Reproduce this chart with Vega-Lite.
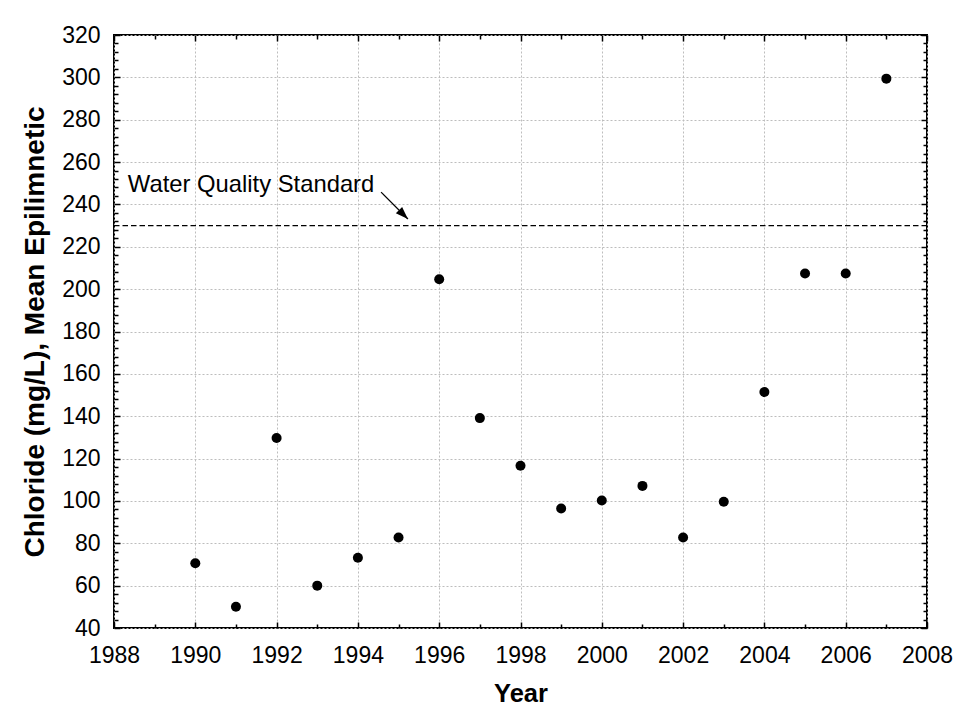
{
  "$schema": "https://vega.github.io/schema/vega-lite/v6.json",
  "width": 813,
  "height": 593,
  "autosize": {"type": "none"},
  "padding": {"left": 114, "top": 35, "right": 27, "bottom": 91},
  "background": "white",
  "config": {
    "font": "Liberation Sans",
    "view": {"stroke": "black", "strokeWidth": 2},
    "axis": {
      "labelFont": "Liberation Sans",
      "labelColor": "black",
      "titleFont": "Liberation Sans",
      "titleColor": "black",
      "tickColor": "black",
      "tickWidth": 1.5,
      "domain": false
    }
  },
  "datasets": {
    "chloride": [
      {"year": 1990, "chloride": 70.6},
      {"year": 1991, "chloride": 50},
      {"year": 1992, "chloride": 129.7},
      {"year": 1993, "chloride": 60},
      {"year": 1994, "chloride": 73.2},
      {"year": 1995, "chloride": 82.7},
      {"year": 1996, "chloride": 204.7},
      {"year": 1997, "chloride": 139.1},
      {"year": 1998, "chloride": 116.6},
      {"year": 1999, "chloride": 96.4},
      {"year": 2000, "chloride": 100.2},
      {"year": 2001, "chloride": 107.1},
      {"year": 2002, "chloride": 82.7},
      {"year": 2003, "chloride": 99.6},
      {"year": 2004, "chloride": 151.4},
      {"year": 2005, "chloride": 207.4},
      {"year": 2006, "chloride": 207.4},
      {"year": 2007, "chloride": 299.4}
    ],
    "standard": [{"label": "Water Quality Standard", "value": 230}],
    "note": [{"label": "Water Quality Standard", "year": 1988.34, "chloride": 245.8}],
    "arrow": [{"year": 1994.57, "chloride": 245.8, "year2": 1995.23, "chloride2": 233.1}]
  },
  "layer": [
    {
      "data": {"name": "chloride"},
      "mark": {"type": "circle", "size": 100, "color": "black", "opacity": 1},
      "encoding": {
        "x": {
          "field": "year", "type": "quantitative",
          "scale": {"domain": [1988, 2008], "nice": false, "zero": false},
          "axis": {
            "orient": "bottom",
            "values": [1988, 1990, 1992, 1994, 1996, 1998, 2000, 2002, 2004, 2006, 2008],
            "format": "d",
            "ticks": false,
            "grid": true,
            "gridColor": "#bdbdbd",
            "gridDash": [2, 2],
            "gridWidth": 1,
            "labelFontSize": 23,
            "labelPadding": 16,
            "labelFlush": false,
            "labelOverlap": false,
            "title": "Year",
            "titleFontSize": 25.5,
            "titleFontWeight": "bold",
            "titlePadding": 14
          }
        },
        "y": {
          "field": "chloride", "type": "quantitative",
          "scale": {"domain": [40, 320], "nice": false, "zero": false},
          "axis": {
            "orient": "left",
            "values": [40, 60, 80, 100, 120, 140, 160, 180, 200, 220, 240, 260, 280, 300, 320],
            "ticks": false,
            "grid": true,
            "gridColor": "#bdbdbd",
            "gridDash": [2, 2],
            "gridWidth": 1,
            "labelFontSize": 23,
            "labelPadding": 14,
            "labelOverlap": false,
            "title": "Chloride (mg/L), Mean Epilimnetic",
            "titleFontSize": 28,
            "titleFontWeight": "bold",
            "titlePadding": 12
          }
        }
      }
    },
    {
      "data": {"name": "standard"},
      "mark": {"type": "rule", "color": "black", "strokeWidth": 1.2, "strokeDash": [5.5, 3]},
      "encoding": {
        "y": {"field": "value", "type": "quantitative", "scale": {"domain": [40, 320], "nice": false, "zero": false}, "axis": null}
      }
    },
    {
      "data": {"name": "note"},
      "mark": {"type": "text", "align": "left", "baseline": "alphabetic", "fontSize": 23.8, "font": "Liberation Sans", "color": "black"},
      "encoding": {
        "x": {
          "field": "year", "type": "quantitative",
          "scale": {"domain": [1988, 2008], "nice": false, "zero": false},
          "axis": {
            "orient": "top",
            "values": [1988, 1989, 1990, 1991, 1992, 1993, 1994, 1995, 1996, 1997, 1998, 1999, 2000, 2001, 2002, 2003, 2004, 2005, 2006, 2007, 2008],
            "labels": false, "grid": false, "title": null,
            "tickSize": {"condition": {"test": "datum.value % 2 === 0", "value": -6}, "value": -4}
          }
        },
        "y": {
          "field": "chloride", "type": "quantitative",
          "scale": {"domain": [40, 320], "nice": false, "zero": false},
          "axis": {
            "orient": "right",
            "values": [40, 44, 48, 52, 56, 60, 64, 68, 72, 76, 80, 84, 88, 92, 96, 100, 104, 108, 112, 116, 120, 124, 128, 132, 136, 140, 144, 148, 152, 156, 160, 164, 168, 172, 176, 180, 184, 188, 192, 196, 200, 204, 208, 212, 216, 220, 224, 228, 232, 236, 240, 244, 248, 252, 256, 260, 264, 268, 272, 276, 280, 284, 288, 292, 296, 300, 304, 308, 312, 316, 320],
            "labels": false, "grid": false, "title": null,
            "tickSize": {"condition": {"test": "datum.value % 20 === 0", "value": -6}, "value": -4}
          }
        },
        "text": {"field": "label", "type": "nominal"}
      }
    },
    {
      "data": {"name": "arrow"},
      "mark": {"type": "rule", "color": "black", "strokeWidth": 1.3},
      "encoding": {
        "x": {
          "field": "year", "type": "quantitative",
          "scale": {"domain": [1988, 2008], "nice": false, "zero": false},
          "axis": {
            "orient": "bottom",
            "values": [1988, 1989, 1990, 1991, 1992, 1993, 1994, 1995, 1996, 1997, 1998, 1999, 2000, 2001, 2002, 2003, 2004, 2005, 2006, 2007, 2008],
            "labels": false, "grid": false, "title": null,
            "tickSize": {"condition": {"test": "datum.value % 2 === 0", "value": -6}, "value": -4}
          }
        },
        "x2": {"field": "year2"},
        "y": {
          "field": "chloride", "type": "quantitative",
          "scale": {"domain": [40, 320], "nice": false, "zero": false},
          "axis": {
            "orient": "left",
            "values": [40, 44, 48, 52, 56, 60, 64, 68, 72, 76, 80, 84, 88, 92, 96, 100, 104, 108, 112, 116, 120, 124, 128, 132, 136, 140, 144, 148, 152, 156, 160, 164, 168, 172, 176, 180, 184, 188, 192, 196, 200, 204, 208, 212, 216, 220, 224, 228, 232, 236, 240, 244, 248, 252, 256, 260, 264, 268, 272, 276, 280, 284, 288, 292, 296, 300, 304, 308, 312, 316, 320],
            "labels": false, "grid": false, "title": null,
            "tickSize": {"condition": {"test": "datum.value % 20 === 0", "value": -6}, "value": -4}
          }
        },
        "y2": {"field": "chloride2"}
      }
    },
    {
      "data": {"name": "arrow"},
      "mark": {"type": "point", "filled": true, "color": "black", "opacity": 1, "shape": "M0,0L0.6,1.7L-0.6,1.7Z", "size": 220, "angle": 135},
      "encoding": {
        "x": {"field": "year2", "type": "quantitative", "scale": {"domain": [1988, 2008], "nice": false, "zero": false}, "axis": null},
        "y": {"field": "chloride2", "type": "quantitative", "scale": {"domain": [40, 320], "nice": false, "zero": false}, "axis": null}
      }
    }
  ],
  "resolve": {"axis": {"x": "independent", "y": "independent"}}
}
